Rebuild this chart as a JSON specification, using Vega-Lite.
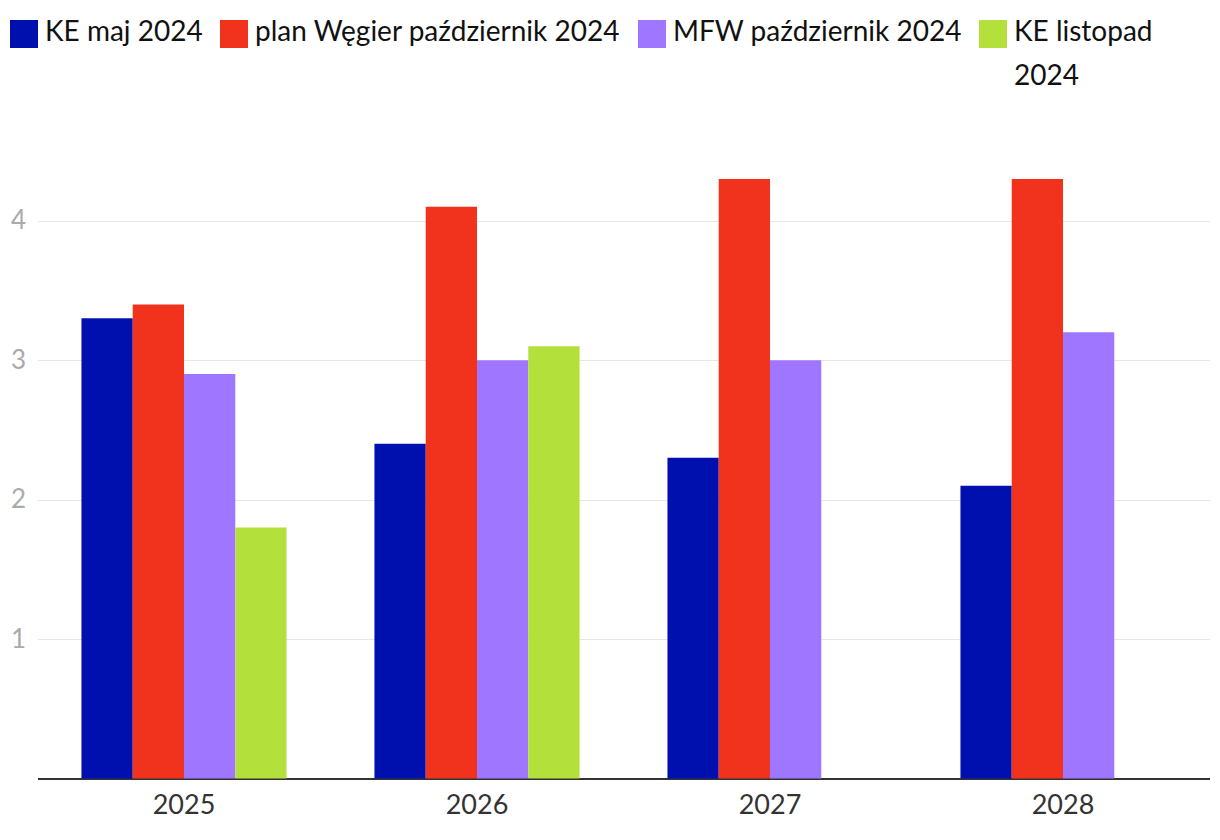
{
  "$schema": "https://vega.github.io/schema/vega-lite/v6.json",
  "autosize": {"type": "none"},
  "width": 1172,
  "height": 627.5,
  "padding": {"left": 37.5, "top": 151, "right": 10.5, "bottom": 61.5},
  "background": "white",
  "data": {
    "values": [
      {"rok": "2025", "seria": "KE maj 2024", "wartosc": 3.3},
      {"rok": "2025", "seria": "plan Węgier październik 2024", "wartosc": 3.4},
      {"rok": "2025", "seria": "MFW październik 2024", "wartosc": 2.9},
      {"rok": "2025", "seria": "KE listopad 2024", "wartosc": 1.8},
      {"rok": "2026", "seria": "KE maj 2024", "wartosc": 2.4},
      {"rok": "2026", "seria": "plan Węgier październik 2024", "wartosc": 4.1},
      {"rok": "2026", "seria": "MFW październik 2024", "wartosc": 3.0},
      {"rok": "2026", "seria": "KE listopad 2024", "wartosc": 3.1},
      {"rok": "2027", "seria": "KE maj 2024", "wartosc": 2.3},
      {"rok": "2027", "seria": "plan Węgier październik 2024", "wartosc": 4.3},
      {"rok": "2027", "seria": "MFW październik 2024", "wartosc": 3.0},
      {"rok": "2028", "seria": "KE maj 2024", "wartosc": 2.1},
      {"rok": "2028", "seria": "plan Węgier październik 2024", "wartosc": 4.3},
      {"rok": "2028", "seria": "MFW październik 2024", "wartosc": 3.2}
    ]
  },
  "mark": {"type": "bar"},
  "encoding": {
    "x": {
      "field": "rok",
      "type": "nominal",
      "scale": {"paddingInner": 0.3, "paddingOuter": 0.15},
      "axis": {
        "title": null,
        "labelAngle": 0,
        "labelFont": "Lato",
        "labelFontSize": 27,
        "labelColor": "#333333",
        "labelPadding": 14,
        "ticks": false,
        "domainColor": "#333333",
        "domainWidth": 2,
        "grid": false
      }
    },
    "xOffset": {
      "field": "seria",
      "type": "nominal",
      "sort": ["KE maj 2024", "plan Węgier październik 2024", "MFW październik 2024", "KE listopad 2024"],
      "scale": {"paddingInner": 0, "paddingOuter": 0}
    },
    "y": {
      "field": "wartosc",
      "type": "quantitative",
      "scale": {"domain": [0, 4.5], "nice": false},
      "axis": {
        "title": null,
        "values": [1, 2, 3, 4],
        "domain": false,
        "ticks": false,
        "labelFont": "Lato",
        "labelFontSize": 26,
        "labelColor": "#aaaaaa",
        "labelPadding": 12,
        "gridColor": "#e6e6e6",
        "gridWidth": 1.2
      }
    },
    "color": {
      "field": "seria",
      "type": "nominal",
      "sort": ["KE maj 2024", "plan Węgier październik 2024", "MFW październik 2024", "KE listopad 2024"],
      "scale": {
        "domain": ["KE maj 2024", "plan Węgier październik 2024", "MFW październik 2024", "KE listopad 2024"],
        "range": ["#0010ae", "#f1331d", "#9f76ff", "#b3e03a"]
      },
      "legend": {
        "title": null,
        "orient": "none",
        "legendX": -27.5,
        "legendY": -131,
        "direction": "horizontal",
        "padding": 0,
        "symbolType": "square",
        "symbolSize": 784,
        "symbolStrokeWidth": 0,
        "labelFont": "Lato",
        "labelFontSize": 28,
        "labelColor": "#111111",
        "labelOffset": 7,
        "labelLimit": 500,
        "labelBaseline": "top",
        "labelExpr": "datum.label == 'KE listopad 2024' ? ['KE listopad', '2024'] : [datum.label, '']",
        "columnPadding": 17,
        "encode": {"labels": {"update": {"dy": {"value": -15}, "lineHeight": {"value": 44}}}}
      }
    }
  },
  "config": {"view": {"stroke": null}}
}
